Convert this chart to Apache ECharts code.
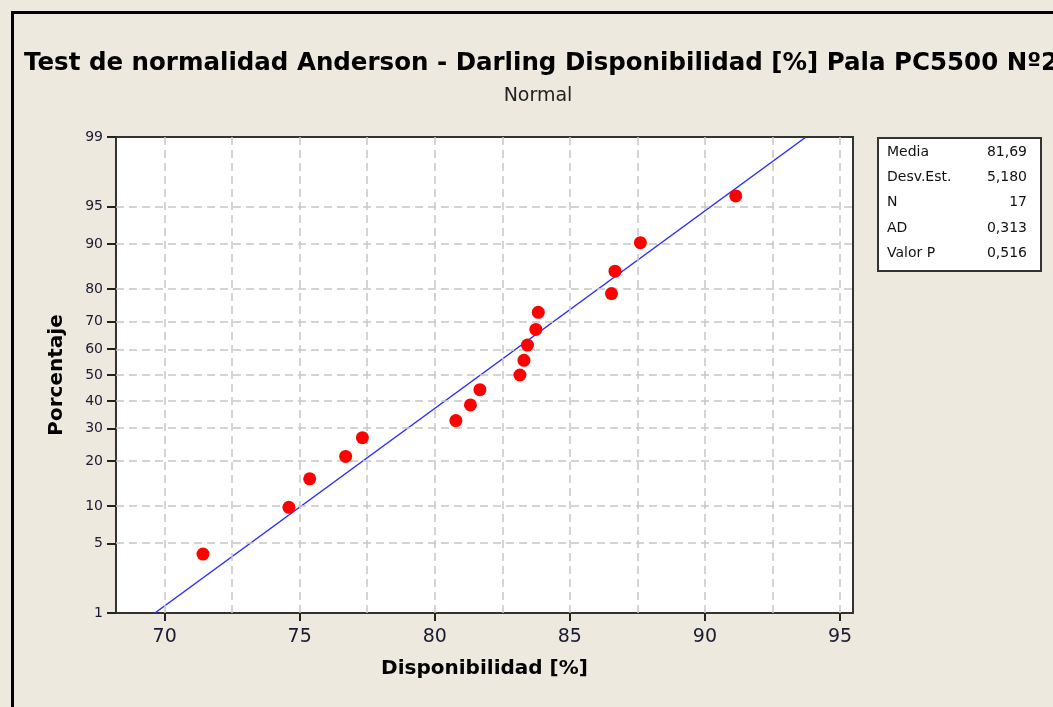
<!DOCTYPE html>
<html><head><meta charset="utf-8">
<script src="https://cdn.jsdelivr.net/npm/echarts@6/dist/echarts.min.js"></script>
<style>
html,body{margin:0;padding:0;background:#ede9df;}
#c{width:1053px;height:707px;}
</style></head>
<body><div id="c"></div>
<script>
// ---- data ----
const disponibilidad = [71.42, 74.60, 75.37, 76.70, 77.32, 80.78, 81.32, 81.67, 83.15, 83.30, 83.43, 83.74, 83.83, 86.54, 86.67, 87.61, 91.14];
const porcentaje = [4.0, 9.8, 15.5, 21.3, 27.0, 32.8, 38.5, 44.3, 50.0, 55.7, 61.5, 67.2, 73.0, 78.7, 84.5, 90.2, 96.0];
const yTickPercents = [1, 5, 10, 20, 30, 40, 50, 60, 70, 80, 90, 95, 99];
const yGridPercents = [5, 10, 20, 30, 40, 50, 60, 70, 80, 90, 95];
const xTickValues = [70, 75, 80, 85, 90, 95];
const xGridValues = [70, 72.5, 75, 77.5, 80, 82.5, 85, 87.5, 90, 92.5, 95];
const statLabels = ['Media', 'Desv.Est.', 'N', 'AD', 'Valor P'];
const statValues = ['81,69', '5,180', '17', '0,313', '0,516'];
const media = 81.69;
const desvEst = 5.180;
const fitPercents = [1, 99];

// inverse standard normal CDF (Acklam)
function invNorm(p) {
  const a = [-3.969683028665376e+01, 2.209460984245205e+02, -2.759285104469687e+02, 1.383577518672690e+02, -3.066479806614716e+01, 2.506628277459239e+00];
  const b = [-5.447609879822406e+01, 1.615858368580409e+02, -1.556989798598866e+02, 6.680131188771972e+01, -1.328068155288572e+01];
  const c = [-7.784894002430293e-03, -3.223964580411365e-01, -2.400758277161838e+00, -2.549732539343734e+00, 4.374664141464968e+00, 2.938163982698783e+00];
  const d = [7.784695709041462e-03, 3.224671290700398e-01, 2.445134137142996e+00, 3.754408661907416e+00];
  const pl = 0.02425, ph = 1 - pl;
  let q, r;
  if (p < pl) { q = Math.sqrt(-2 * Math.log(p)); return (((((c[0]*q+c[1])*q+c[2])*q+c[3])*q+c[4])*q+c[5]) / ((((d[0]*q+d[1])*q+d[2])*q+d[3])*q+1); }
  if (p <= ph) { q = p - 0.5; r = q*q; return (((((a[0]*r+a[1])*r+a[2])*r+a[3])*r+a[4])*r+a[5])*q / (((((b[0]*r+b[1])*r+b[2])*r+b[3])*r+b[4])*r+1); }
  q = Math.sqrt(-2 * Math.log(1 - p)); return -(((((c[0]*q+c[1])*q+c[2])*q+c[3])*q+c[4])*q+c[5]) / ((((d[0]*q+d[1])*q+d[2])*q+d[3])*q+1);
}
const z = p => invNorm(p / 100);
const yMin = z(1), yMax = z(99);
const yTickZ = yTickPercents.map(z);
function pctLabel(v) {
  let best = yTickPercents[0], bd = 1e9;
  yTickPercents.forEach((p, i) => { const dd = Math.abs(yTickZ[i] - v); if (dd < bd) { bd = dd; best = p; } });
  return String(best);
}

const pts = disponibilidad.map((x, i) => [x, z(porcentaje[i])]);
const fit = fitPercents.map(p => [media + desvEst * z(p), z(p)]);

const tickFont = 'DejaVu Sans';
const chart = echarts.init(document.getElementById('c'), null, {renderer: 'canvas'});
const gridLine = {color: '#c6c6c6', type: [8, 5], width: 1.5};

const statGraphics = [];
statLabels.forEach((l, i) => {
  statGraphics.push({type: 'text', left: 887, top: 145 + i * 25.3, style: {text: l, font: '14px "DejaVu Sans"', fill: '#111'}});
  statGraphics.push({type: 'text', right: 26, top: 145 + i * 25.3, style: {text: statValues[i], font: '14px "DejaVu Sans"', fill: '#111', align: 'right'}});
});

chart.setOption({
  animation: false,
  backgroundColor: '#ede9df',
  title: [
    {text: 'Test de normalidad Anderson - Darling Disponibilidad [%] Pala PC5500 Nº2', left: 19, top: 46,
     textStyle: {fontFamily: 'DejaVu Sans', fontWeight: 'bold', fontSize: 24.5, color: '#000'}},
    {text: 'Normal', left: 533, top: 82, textAlign: 'center',
     textStyle: {fontFamily: 'DejaVu Sans', fontWeight: 'normal', fontSize: 19, color: '#222'}}
  ],
  grid: {left: 116, right: 200, top: 137, bottom: 94, show: true, backgroundColor: '#ffffff', borderColor: '#333', borderWidth: 2},
  xAxis: {
    type: 'value', min: 68.2, max: 95.48,
    name: 'Disponibilidad [%]', nameLocation: 'middle', nameGap: 46,
    nameTextStyle: {fontFamily: 'DejaVu Sans', fontWeight: 'bold', fontSize: 20, color: '#000'},
    axisLine: {show: true, onZero: false, lineStyle: {color: '#333', width: 2}},
    axisTick: {show: true, customValues: xTickValues, length: 8, lineStyle: {color: '#222', width: 2}},
    axisLabel: {customValues: xTickValues, margin: 15, fontFamily: tickFont, fontSize: 19, color: '#1a1a33'},
    splitLine: {show: false}
  },
  yAxis: {
    type: 'value', min: yMin, max: yMax,
    name: 'Porcentaje', nameLocation: 'middle', nameGap: 49,
    nameTextStyle: {fontFamily: 'DejaVu Sans', fontWeight: 'bold', fontSize: 20, color: '#000'},
    axisLine: {show: true, onZero: false, lineStyle: {color: '#333', width: 2}},
    axisTick: {show: true, customValues: yTickZ, length: 9, lineStyle: {color: '#222', width: 2}},
    axisLabel: {customValues: yTickZ, margin: 13, fontFamily: tickFont, fontSize: 14, color: '#1a1a33', formatter: pctLabel},
    splitLine: {show: false}
  },
  graphic: [
    {type: 'rect', left: 877, top: 137, shape: {width: 163, height: 133}, style: {fill: '#fff', stroke: '#333', lineWidth: 2}},
    ...statGraphics,
    {type: 'rect', left: 10, top: 10, shape: {width: 1100, height: 800}, style: {fill: 'none', stroke: '#000', lineWidth: 3}, silent: true}
  ],
  series: [
    {
      type: 'line', data: fit, symbol: 'none', lineStyle: {color: '#2b2bff', width: 1.5}, z: 3,
      markLine: {
        silent: true, symbol: 'none', label: {show: false}, lineStyle: gridLine, animation: false,
        data: [
          ...yGridPercents.map(p => ({yAxis: z(p)})),
          ...xGridValues.map(v => ({xAxis: v}))
        ]
      }
    },
    {type: 'scatter', data: pts, symbol: 'circle', symbolSize: 13, itemStyle: {color: '#ff0000', opacity: 1}, z: 5}
  ]
});
</script></body></html>
